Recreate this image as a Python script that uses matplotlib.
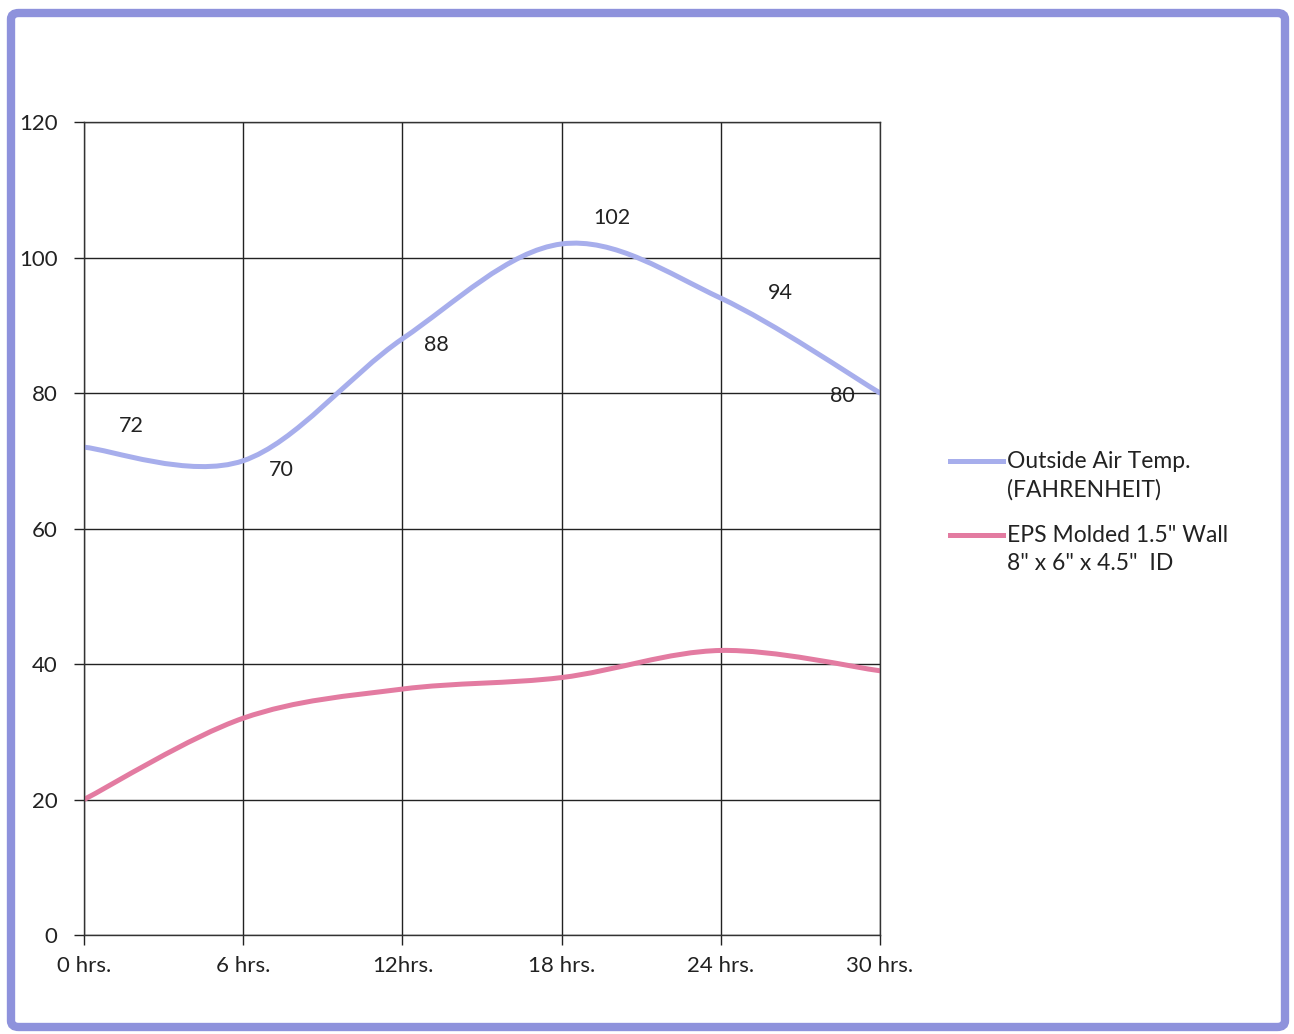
import matplotlib

matplotlib.use("Agg")
import matplotlib.pyplot as plt
import numpy as np
from matplotlib.lines import Line2D
from matplotlib.patches import FancyBboxPatch, PathPatch
from matplotlib.path import Path

plt.rcParams["font.family"] = ["Lato", "DejaVu Sans"]

# chart data
hour_labels = ["0 hrs.", "6 hrs.", "12hrs.", "18 hrs.", "24 hrs.", "30 hrs."]
outside_air = [72, 70, 88, 102, 94, 80]
eps_molded = [20, 32, 36.3, 38, 42, 39]
series_names = ['Outside Air Temp.\n(FAHRENHEIT)', 'EPS Molded 1.5" Wall\n8" x 6" x 4.5"  ID']

# pixel offsets of the data labels from their points
label_offsets = [(47, 21), (38, -9), (34, -6), (50, 26), (60, 5), (-38, -3)]

BLUE = "#a7aeec"
PINK = "#e37ba1"
BORDER = "#8e92dc"
INK = "#222222"


def smooth_path(x, y):
    """Excel-style smoothed line as a cubic Bezier path in data space."""
    pts = np.column_stack([x, y]).astype(float)
    ext = np.vstack([pts[0], pts, pts[-1]])
    verts = [pts[0]]
    codes = [Path.MOVETO]
    for i in range(len(pts) - 1):
        p0, p1, p2, p3 = ext[i], ext[i + 1], ext[i + 2], ext[i + 3]
        verts += [p1 + (p2 - p0) / 6, p2 - (p3 - p1) / 6, p2]
        codes += [Path.CURVE4] * 3
    return Path(verts, codes)


fig = plt.figure(figsize=(12.94, 10.34), dpi=100)
ax = fig.add_axes([84 / 1294, 1 - 935 / 1034, (880 - 84) / 1294, (935 - 122) / 1034])

x = np.arange(len(hour_labels))
for values, colour in [(outside_air, BLUE), (eps_molded, PINK)]:
    patch = PathPatch(smooth_path(x, values), fill=False, edgecolor=colour,
                      linewidth=3.6, capstyle="round", transform=ax.transData)
    ax.add_patch(patch)

for xi, val, (dx, dy) in zip(x, outside_air, label_offsets):
    ax.annotate(str(val), (xi, val), xytext=(dx, dy), textcoords="offset pixels",
                ha="center", va="center", fontsize=15.5, color=INK)

ax.set_xlim(0, len(hour_labels) - 1)
ax.set_ylim(0, 120)
ax.set_xticks(x)
ax.set_xticklabels(hour_labels)
ax.set_yticks(np.arange(0, 121, 20))
ax.tick_params(axis="both", direction="out", length=7, width=1, labelsize=16,
               colors=INK)
ax.tick_params(axis="x", pad=8)
ax.tick_params(axis="y", pad=12)
ax.grid(True, color=INK, linewidth=1)
ax.set_axisbelow(True)
for spine in ax.spines.values():
    spine.set_color("#333333")
    spine.set_linewidth(1)

# legend drawn by hand so the key sits on the first text line
for (colour, name, top) in [(BLUE, series_names[0], 461), (PINK, series_names[1], 535)]:
    fy = 1 - top / 1034
    fig.add_artist(Line2D([950 / 1294, 1003 / 1294], [fy, fy], color=colour,
                          linewidth=3.6, transform=fig.transFigure))
    fig.text(1007 / 1294, fy + 10 / 1034, name, ha="left", va="top", fontsize=16.5,
             color=INK, linespacing=1.42)

border = FancyBboxPatch((11 / 1294, 7 / 1034), 1274 / 1294, 1014 / 1034,
                        boxstyle="round,pad=0,rounding_size=0.006",
                        transform=fig.transFigure, fill=False,
                        edgecolor=BORDER, linewidth=6)
fig.add_artist(border)

fig.savefig("out.png", dpi=100)
